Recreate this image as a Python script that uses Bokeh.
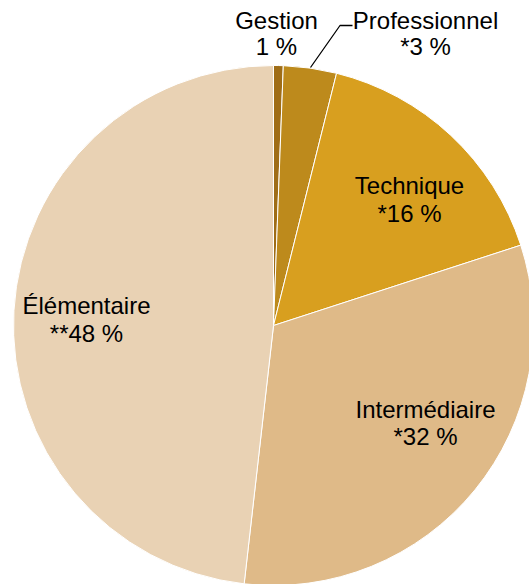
import math
from bokeh.plotting import figure
from bokeh.models import Range1d, ColumnDataSource
from bokeh.core.properties import value
from bokeh.embed import file_html
from bokeh.resources import INLINE

# ---- data ----
categories = ["Gestion", "Professionnel", "Technique", "Intermédiaire", "Élémentaire"]
shares = [0.6, 3.3, 16.1, 31.8, 48.2]
pct_labels = ["1 %", "*3 %", "*16 %", "*32 %", "**48 %"]
colors = ["#9F6D16", "#BD8A1C", "#D89F1F", "#DFBA88", "#E9D2B4"]

# ---- layout (page pixel positions; y measured downward) ----
W, H = 529, 584
cx, cy_page, R = 273, 325, 260
label_pos = {
    "Gestion": (276, 20, 46),
    "Professionnel": (425, 20, 46),
    "Technique": (409, 185, 213),
    "Intermédiaire": (425, 409, 436),
    "Élémentaire": (86, 305, 333),
}

def fy(y_page):
    return H - y_page

p = figure(width=W, height=H, output_backend="svg", toolbar_location=None,
           x_range=Range1d(0, W), y_range=Range1d(0, H),
           min_border=0, match_aspect=False)
p.axis.visible = False
p.grid.visible = False
p.outline_line_color = None
p.background_fill_color = "white"

total = sum(shares)
starts, ends = [], []
cum = 0.0
for s in shares:
    a0 = math.pi / 2 - 2 * math.pi * cum / total
    cum += s
    a1 = math.pi / 2 - 2 * math.pi * cum / total
    starts.append(a0)
    ends.append(a1)

src = ColumnDataSource(dict(cat=categories, start=starts, end=ends, color=colors))
p.wedge(x=cx, y=fy(cy_page), radius=R, start_angle="start", end_angle="end",
        direction="clock", fill_color="color", line_color="white", line_width=1,
        source=src)

# leader line for Professionnel
p.line(x=[310, 339.5, 352], y=[fy(67), fy(25), fy(25)], line_color="black", line_width=1.3)

xs, ys1, ys2 = [], [], []
for c in categories:
    x, b1, b2 = label_pos[c]
    xs.append(x); ys1.append(fy(b1)); ys2.append(fy(b2))

font = value("Liberation Sans")
p.text(x=xs, y=ys1, text=categories, text_align="center", text_baseline="middle",
       text_font=font, text_font_size="24px", text_color="black")
p.text(x=xs, y=ys2, text=pct_labels, text_align="center", text_baseline="middle",
       text_font=font, text_font_size="24px", text_color="black")

open("out.html", "w").write(file_html(p, INLINE))
